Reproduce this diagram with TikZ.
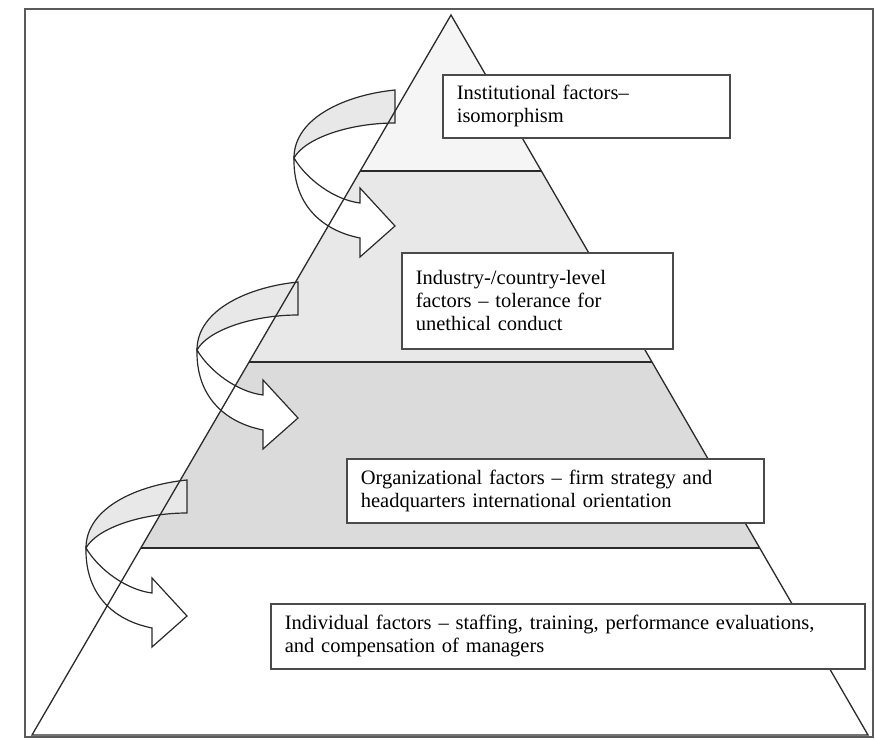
\documentclass[tikz,border=0pt]{standalone}
\usepackage{fontspec}
\setmainfont{Liberation Serif}
\usetikzlibrary{calc}
\definecolor{frameg}{HTML}{5A5A5A}
\definecolor{pyrg}{HTML}{2A2A2A}
\definecolor{boxg}{HTML}{4A4A4A}
\definecolor{bandA}{HTML}{F5F5F5}
\definecolor{bandB}{HTML}{E8E8E8}
\definecolor{bandC}{HTML}{DBDBDB}
\definecolor{crescent}{HTML}{E8E8E8}
\tikzset{
  pyrline/.style={draw=pyrg, line width=1.3pt},
  arrowline/.style={draw=pyrg, line width=1.2pt},
  factbox/.style={draw=boxg, line width=1.6pt, fill=white, align=left,
    inner xsep=14pt, inner ysep=0pt, anchor=north west,
    font=\fontsize{20.5}{23}\selectfont},
  ribbon/.pic={
    \filldraw[arrowline, fill=crescent] (0,0) .. controls (-50,5) and (-101,28) .. (-101,68)
      .. controls (-90,48) and (-45,33) .. (0,33) -- cycle;
    \filldraw[arrowline, fill=white] (-101,68) .. controls (-102,113) and (-75,140) .. (-35,148)
      -- (-35,167) -- (0,136) -- (-35,98) -- (-35,113)
      .. controls (-60,110) and (-88,90) .. (-101,68) -- cycle;
  }
}
\begin{document}
\begin{tikzpicture}[x=1pt,y=-1pt]
\useasboundingbox (0,0) rectangle (876,741);
\fill[white] (0,0) rectangle (876,741);
\draw[frameg, line width=1.8pt] (25,9) rectangle (873,737);
\coordinate (A) at (451,15);
\coordinate (BL) at (32,735);
\coordinate (BR) at (868,735);
\coordinate (L1) at ($(A)!0.21667!(BL)$);
\coordinate (R1) at ($(A)!0.21667!(BR)$);
\coordinate (L2) at ($(A)!0.48194!(BL)$);
\coordinate (R2) at ($(A)!0.48194!(BR)$);
\coordinate (L3) at ($(A)!0.74028!(BL)$);
\coordinate (R3) at ($(A)!0.74028!(BR)$);
\fill[bandA] (A) -- (L1) -- (R1) -- cycle;
\fill[bandB] (L1) -- (L2) -- (R2) -- (R1) -- cycle;
\fill[bandC] (L2) -- (L3) -- (R3) -- (R2) -- cycle;
\pic at (395,90) {ribbon};
\pic at (298,282) {ribbon};
\pic at (187,480) {ribbon};
\draw[pyrline] (A) -- (BL) -- (BR) -- cycle;
\draw[pyrline] (L1) -- (R1);
\draw[pyrline] (L2) -- (R2);
\draw[pyrline] (L3) -- (R3);
\node[factbox, minimum width=287pt, minimum height=63pt, text width=259pt] (inst) at (442,74)
  {Institutional factors–\\isomorphism};
\node[factbox, minimum width=271pt, minimum height=96pt, text width=243pt] (indu) at (401,252)
  {Industry-/country-level\\factors – tolerance for\\unethical conduct};
\node[factbox, minimum width=417pt, minimum height=64pt, text width=389pt] (orga) at (346,458)
  {Organizational factors – firm strategy and\\headquarters international orientation};
\node[factbox, minimum width=594pt, minimum height=65pt, text width=566pt] (indi) at (270,603)
  {Individual factors – staffing, training, performance evaluations,\\and compensation of managers};
\end{tikzpicture}
\end{document}
